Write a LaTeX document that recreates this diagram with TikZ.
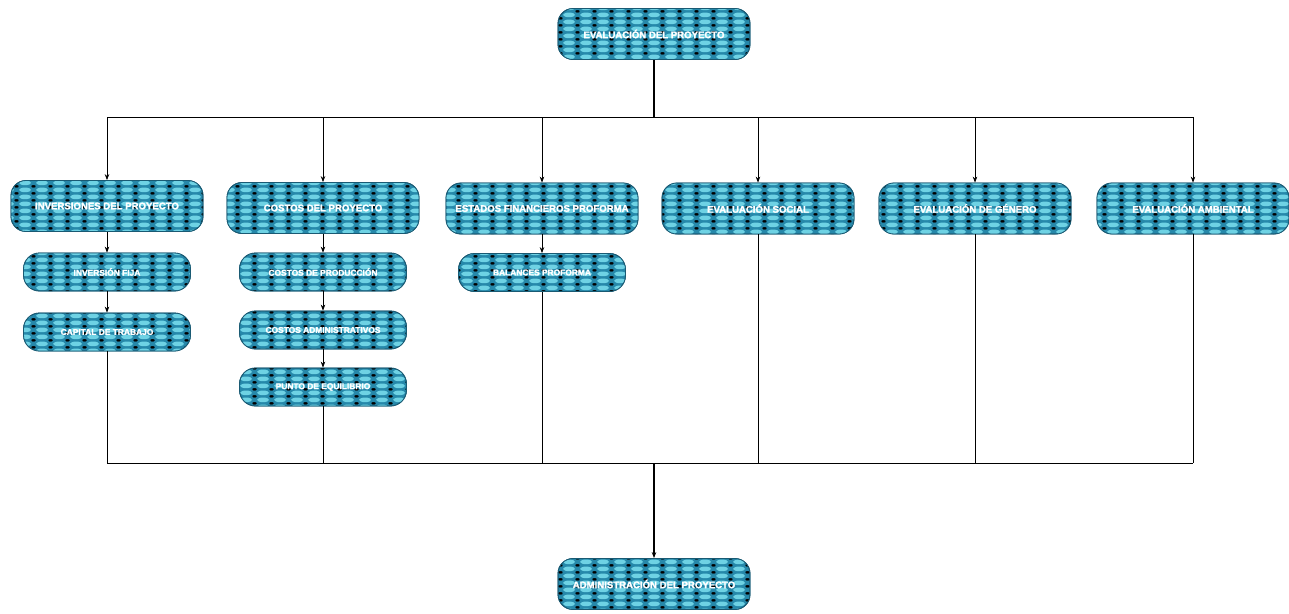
\documentclass[tikz,border=0pt]{standalone}
\usepackage{fontspec}
\setmainfont{Liberation Sans}[BoldFeatures={FakeBold=2}]
\usetikzlibrary{patterns,arrows.meta}
\definecolor{boxbase}{RGB}{38,136,170}
\definecolor{boxlight}{RGB}{110,210,228}
\definecolor{boxborder}{RGB}{25,90,115}
\pgfdeclarepatternformonly{ovalsP}{\pgfpointorigin}{\pgfqpoint{17pt}{7pt}}{\pgfqpoint{17pt}{7pt}}{%
  \pgfpathellipse{\pgfqpoint{8.5pt}{3.5pt}}{\pgfqpoint{6.3pt}{0pt}}{\pgfqpoint{0pt}{2.6pt}}%
  \pgfusepath{fill}}
\pgfdeclarepatternformonly{starsP}{\pgfpointorigin}{\pgfqpoint{17pt}{7pt}}{\pgfqpoint{17pt}{7pt}}{%
  \pgfpathmoveto{\pgfqpoint{-2.1pt}{0pt}}\pgfpathlineto{\pgfqpoint{0pt}{1.1pt}}\pgfpathlineto{\pgfqpoint{2.1pt}{0pt}}\pgfpathlineto{\pgfqpoint{0pt}{-1.1pt}}\pgfpathclose
  \pgfpathmoveto{\pgfqpoint{14.9pt}{0pt}}\pgfpathlineto{\pgfqpoint{17pt}{1.1pt}}\pgfpathlineto{\pgfqpoint{19.1pt}{0pt}}\pgfpathlineto{\pgfqpoint{17pt}{-1.1pt}}\pgfpathclose
  \pgfpathmoveto{\pgfqpoint{-2.1pt}{7pt}}\pgfpathlineto{\pgfqpoint{0pt}{8.1pt}}\pgfpathlineto{\pgfqpoint{2.1pt}{7pt}}\pgfpathlineto{\pgfqpoint{0pt}{5.9pt}}\pgfpathclose
  \pgfpathmoveto{\pgfqpoint{14.9pt}{7pt}}\pgfpathlineto{\pgfqpoint{17pt}{8.1pt}}\pgfpathlineto{\pgfqpoint{19.1pt}{7pt}}\pgfpathlineto{\pgfqpoint{17pt}{5.9pt}}\pgfpathclose
  \pgfusepath{fill}}
\tikzset{
  patbox/.style={draw=boxborder, line width=0.8pt, fill=boxbase, inner sep=0pt,
    postaction={pattern=ovalsP, pattern color=boxlight},
    postaction={pattern=starsP, pattern color=black},
    postaction={draw=boxborder, line width=0.8pt},
    text=white, font=\bfseries},
  bigbox/.style={patbox, minimum width=192pt, minimum height=51pt, rounded corners=15pt, font=\bfseries\fontsize{9.6}{11}\selectfont},
  smallbox/.style={patbox, minimum width=167pt, minimum height=38pt, rounded corners=16pt, font=\bfseries\fontsize{8.4}{10}\selectfont},
  conn/.style={draw=black, line width=0.7pt},
  trunk/.style={draw=black, line width=1.6pt},
  tip/.style={-{Stealth[length=6pt,width=4.5pt]}}
}
\begin{document}
\begin{tikzpicture}[x=1pt,y=-1pt]
\useasboundingbox (0,0) rectangle (1289,613);
\node[bigbox] (top) at (654,34) {EVALUACIÓN DEL PROYECTO};
\node[bigbox] (b1) at (107,206) {INVERSIONES DEL PROYECTO};
\node[bigbox] (b2) at (323,208) {COSTOS DEL PROYECTO};
\node[bigbox] (b3) at (542,208.5) {ESTADOS FINANCIEROS PROFORMA};
\node[bigbox] (b4) at (758,208.5) {EVALUACIÓN SOCIAL};
\node[bigbox] (b5) at (975,208.5) {EVALUACIÓN DE GÉNERO};
\node[bigbox] (b6) at (1193,208.5) {EVALUACIÓN AMBIENTAL};
\node[smallbox] (s11) at (107,272) {INVERSIÓN FIJA};
\node[smallbox] (s12) at (107,332) {CAPITAL DE TRABAJO};
\node[smallbox] (s21) at (323,272) {COSTOS DE PRODUCCIÓN};
\node[smallbox] (s22) at (323,330) {COSTOS ADMINISTRATIVOS};
\node[smallbox] (s23) at (323,387) {PUNTO DE EQUILIBRIO};
\node[smallbox] (s31) at (542,272.5) {BALANCES PROFORMA};
\node[bigbox] (bot) at (654,584) {ADMINISTRACIÓN DEL PROYECTO};
\coordinate (jt) at (654,117);
\coordinate (jb) at (654,463);
% top distribution
\draw[trunk] (top.south) -- (jt);
\draw[conn] (b1.north |- jt) -- (b6.north |- jt);
\foreach \n in {b1,b2,b3,b4,b5,b6} {
  \draw[conn,tip] (\n.north |- jt) -- (\n.north);
}
% sub chains
\draw[conn,tip] (b1) -- (s11);
\draw[conn,tip] (s11) -- (s12);
\draw[conn,tip] (b2) -- (s21);
\draw[conn,tip] (s21) -- (s22);
\draw[conn,tip] (s22) -- (s23);
\draw[conn,tip] (b3) -- (s31);
% bottom collection
\foreach \n in {s12,s23,s31,b4,b5,b6} {
  \draw[conn] (\n.south) -- (\n.south |- jb);
}
\draw[conn] (s12.south |- jb) -- (b6.south |- jb);
\draw[trunk,tip] (jb) -- (bot.north);
\end{tikzpicture}
\end{document}
